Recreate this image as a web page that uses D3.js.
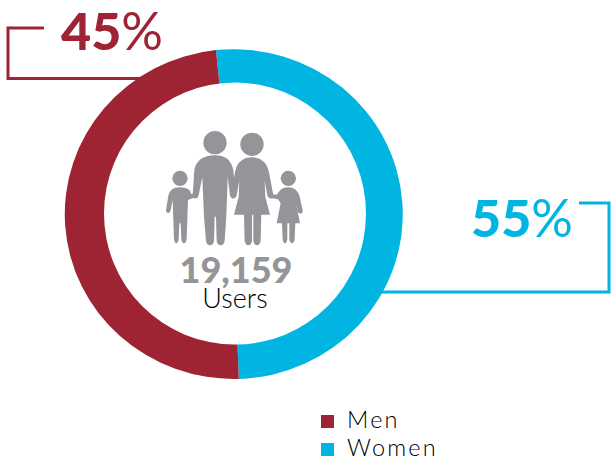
<!DOCTYPE html>
<html>
<head>
<meta charset="utf-8">
<script src="https://cdnjs.cloudflare.com/ajax/libs/d3/7.8.5/d3.min.js"></script>
<style>
  html, body { margin: 0; padding: 0; background: #fff; }
  svg { display: block; }
  text { font-family: Lato, "Open Sans", sans-serif; }
</style>
</head>
<body>
<script>
//categories and values
var categories = ["Women", "Men"];
var labels = ["55%", "45%"]; //printed labels
var arcShares = [51, 49]; //share of the ring as actually drawn in the picture
var colors = ["#00b5e2", "#9e2433"];
var totalLabel = "19,159";
var totalUnit = "Users";

var width = 611, height = 460;
var grey = "#939598";

var svg = d3.select("body").append("svg")
    .attr("width", width)
    .attr("height", height);

//leader lines go under the ring
svg.append("path")
    .attr("d", "M44 28H8V78.500H150")
    .attr("fill", "none").attr("stroke", colors[1]).attr("stroke-width", 3);
svg.append("path")
    .attr("d", "M579 203H609V292H375")
    .attr("fill", "none").attr("stroke", colors[0]).attr("stroke-width", 3);

//ring: outer edge is a slightly squashed ellipse, so wedges are scaled and the hole is cut on top
var pie = d3.pie().sort(null).startAngle(-0.099).endAngle(2 * Math.PI - 0.099);
var wedge = d3.arc().innerRadius(0).outerRadius(1);
var hole = d3.arc().innerRadius(0).outerRadius(131).startAngle(0).endAngle(2 * Math.PI);

svg.append("g")
    .attr("transform", "translate(232.700,214.200) scale(169,164.900)")
    .selectAll("path")
    .data(pie(arcShares))
    .enter()
    .append("path")
    .attr("d", wedge)
    .attr("fill", function(d, i){ return colors[i]; });

svg.append("path")
    .attr("transform", "translate(235,213.600)")
    .attr("d", hole())
    .attr("fill", "#fff");

//percent labels, the % sign is lighter than the digits
function percentLabel(txt, x, y, color){
    var t = svg.append("text")
        .attr("x", x).attr("y", y)
        .attr("fill", color)
        .attr("font-size", 52);
    t.append("tspan").attr("font-weight", 900).text(txt.replace("%", ""));
    t.append("tspan").attr("font-weight", 400).text("%");
}
percentLabel(labels[1], 61, 50, colors[1]);
percentLabel(labels[0], 471, 237, colors[0]);

//family icon, traced in 3x crop coordinates
var icon = svg.append("g")
    .attr("transform", "translate(150,120) scale(0.3333)")
    .attr("fill", grey);

[[195, 68, 35], [306, 73, 35], [90, 175, 23], [415, 175, 23]].forEach(function(h){
    icon.append("circle").attr("cx", h[0]).attr("cy", h[1]).attr("r", h[2]);
});

var bodies = [
    //man
    "M195 106C160 106 138 122 133 150L128 225C128 238 143 240 146 225L157 172L162 290L168 362C170 380 190 380 192 362L194 290H198L200 362C202 380 222 380 224 362L229 290L233 172L240 225C244 240 256 236 256 222L250 150C244 122 228 106 195 106Z",
    //woman
    "M306 112C280 112 262 126 256 152L242 225C242 238 256 240 260 226L268 182L266 230L252 284H282L284 362C286 380 304 380 306 362V284H310V362C312 380 330 380 332 362L334 284H360L346 230L344 182L352 226C356 240 372 238 370 225L356 152C350 126 332 112 306 112Z",
    //boy
    "M90 202C70 202 58 212 55 228L48 270C48 282 60 282 62 270L68 240L70 300L72 358C74 374 84 374 86 358L88 310H92L94 358C96 374 108 374 110 358L112 300L114 240L124 236L136 232V220L124 222L120 212C114 206 104 202 90 202Z",
    //girl
    "M415 202C402 202 394 206 388 214L380 224L362 222V234L384 238L392 250L380 310H396L398 358C400 374 410 374 412 358V310H418V358C420 374 432 374 434 358L436 310H450L438 250L444 276C448 284 460 282 458 270L448 226C442 210 430 202 415 202Z"
];
icon.selectAll("path").data(bodies).enter().append("path").attr("d", function(d){ return d; });

//total in the middle
svg.append("text")
    .attr("x", 236).attr("y", 283)
    .attr("text-anchor", "middle")
    .attr("font-size", 36).attr("font-weight", 900)
    .attr("fill", grey)
    .text(totalLabel);
svg.append("text")
    .attr("x", 235).attr("y", 308)
    .attr("text-anchor", "middle")
    .attr("font-size", 27).attr("font-weight", 300)
    .attr("fill", "#000")
    .text(totalUnit);

//legend, Men first
var legendOrder = [categories[1], categories[0]];
var legendY = d3.scalePoint().domain(legendOrder).range([427.500, 455.500]);
var legendColor = d3.scaleOrdinal().domain(categories).range(colors);

var legend = svg.selectAll(".legend")
    .data(legendOrder)
    .enter()
    .append("g")
    .attr("class", "legend");
legend.append("rect")
    .attr("x", 321)
    .attr("y", function(d){ return legendY(d) - 12.500; })
    .attr("width", 13).attr("height", 13)
    .attr("fill", function(d){ return legendColor(d); });
legend.append("text")
    .attr("x", 347)
    .attr("y", function(d){ return legendY(d); })
    .attr("font-size", 23.500).attr("font-weight", 300)
    .attr("letter-spacing", 2.200)
    .attr("fill", "#000")
    .text(function(d){ return d; });
</script>
</body>
</html>
